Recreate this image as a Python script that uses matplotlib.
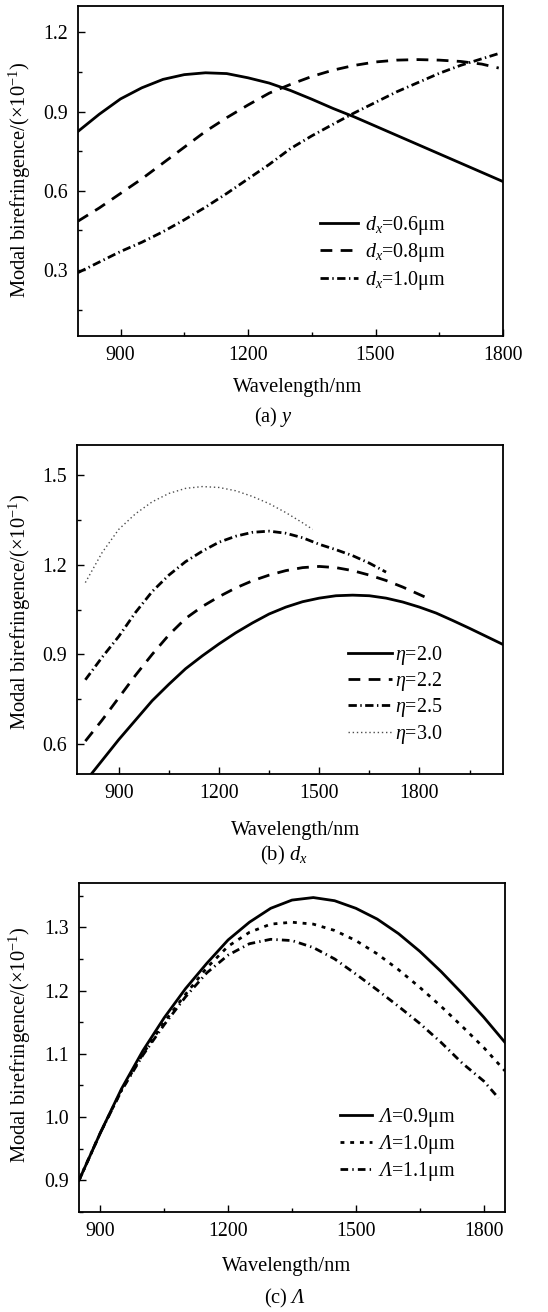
import matplotlib
matplotlib.use('Agg')
import matplotlib.pyplot as plt
from matplotlib.ticker import MultipleLocator, FormatStrFormatter

plt.rcParams['font.family'] = ['Liberation Serif', 'DejaVu Serif']
plt.rcParams['mathtext.fontset'] = 'custom'
plt.rcParams['mathtext.rm'] = 'Liberation Serif'
plt.rcParams['mathtext.it'] = 'Liberation Serif:italic'
plt.rcParams['mathtext.sf'] = 'Liberation Serif:italic'
plt.rcParams['mathtext.bf'] = 'Liberation Serif:bold'
plt.rcParams['lines.scale_dashes'] = False

# ---------------- Panel (a): varying y ----------------
a_x06 = [800, 850, 900, 950, 1000, 1050, 1100, 1150, 1200, 1250, 1300, 1350, 1400,
         1450, 1500, 1550, 1600, 1650, 1700, 1750, 1800]
a_y06 = [0.825, 0.89, 0.948, 0.99, 1.022, 1.04, 1.047, 1.044, 1.028, 1.008, 0.98, 0.947,
         0.912, 0.88, 0.845, 0.81, 0.775, 0.74, 0.705, 0.67, 0.635]
a_x08 = [800, 850, 900, 950, 1000, 1050, 1100, 1150, 1200, 1250, 1300, 1350, 1400,
         1450, 1500, 1550, 1600, 1650, 1700, 1750, 1790]
a_y08 = [0.485, 0.535, 0.59, 0.645, 0.705, 0.765, 0.825, 0.877, 0.925, 0.97, 1.003, 1.033,
         1.057, 1.075, 1.088, 1.095, 1.097, 1.095, 1.09, 1.08, 1.065]
a_x10 = [800, 850, 900, 950, 1000, 1050, 1100, 1150, 1200, 1250, 1300, 1350, 1400,
         1450, 1500, 1550, 1600, 1650, 1700, 1750, 1790]
a_y10 = [0.29, 0.33, 0.37, 0.405, 0.445, 0.49, 0.538, 0.59, 0.645, 0.7, 0.76, 0.808,
         0.852, 0.895, 0.935, 0.975, 1.01, 1.045, 1.075, 1.1, 1.12]
a_labels = [r'$d_x$=0.6μm', r'$d_x$=0.8μm', r'$d_x$=1.0μm']

# ---------------- Panel (b): varying d_x ----------------
b_x20 = [800, 850, 900, 950, 1000, 1050, 1100, 1150, 1200, 1250, 1300, 1350, 1400, 1450,
         1500, 1550, 1600, 1650, 1700, 1750, 1800, 1850, 1900, 1950, 2000, 2050]
b_y20 = [0.475, 0.545, 0.615, 0.68, 0.745, 0.8, 0.852, 0.895, 0.935, 0.972, 1.005, 1.035,
         1.058, 1.076, 1.088, 1.096, 1.098, 1.096, 1.088, 1.075, 1.058, 1.038, 1.013, 0.987,
         0.96, 0.933]
b_x22 = [800, 850, 900, 950, 1000, 1050, 1100, 1150, 1200, 1250, 1300, 1350, 1400, 1450,
         1500, 1550, 1600, 1650, 1700, 1750, 1800, 1820]
b_y22 = [0.61, 0.68, 0.755, 0.83, 0.9, 0.965, 1.02, 1.06, 1.093, 1.122, 1.146, 1.165,
         1.18, 1.19, 1.194, 1.19, 1.18, 1.165, 1.147, 1.125, 1.1, 1.09]
b_x25 = [800, 850, 900, 950, 1000, 1050, 1100, 1150, 1200, 1250, 1300, 1350, 1400, 1450,
         1500, 1550, 1600, 1650, 1700]
b_y25 = [0.815, 0.89, 0.96, 1.04, 1.11, 1.165, 1.21, 1.245, 1.275, 1.295, 1.308, 1.312,
         1.305, 1.29, 1.268, 1.25, 1.23, 1.205, 1.175]
b_x30 = [800, 850, 900, 950, 1000, 1050, 1100, 1150, 1200, 1250, 1300, 1350, 1400, 1450, 1480]
b_y30 = [1.14, 1.24, 1.318, 1.37, 1.41, 1.438, 1.455, 1.461, 1.458, 1.447, 1.428, 1.404,
         1.374, 1.34, 1.318]
b_labels = [r'$\eta$=2.0', r'$\eta$=2.2', r'$\eta$=2.5', r'$\eta$=3.0']

# ---------------- Panel (c): varying Lambda ----------------
c_x09 = [850, 900, 950, 1000, 1050, 1100, 1150, 1200, 1250, 1300, 1350, 1400, 1450, 1500,
         1550, 1600, 1650, 1700, 1750, 1800, 1850]
c_y09 = [0.9, 0.975, 1.045, 1.105, 1.157, 1.203, 1.243, 1.28, 1.308, 1.33, 1.343, 1.347,
         1.342, 1.33, 1.313, 1.29, 1.262, 1.23, 1.195, 1.158, 1.118]
c_x10 = [850, 900, 950, 1000, 1050, 1100, 1150, 1200, 1250, 1300, 1350, 1400, 1450, 1500,
         1550, 1600, 1650, 1700, 1750, 1800, 1850]
c_y10 = [0.9, 0.975, 1.043, 1.1, 1.15, 1.194, 1.236, 1.27, 1.292, 1.305, 1.308, 1.305,
         1.295, 1.279, 1.258, 1.233, 1.205, 1.175, 1.143, 1.11, 1.073]
c_x11 = [850, 900, 950, 1000, 1050, 1100, 1150, 1200, 1250, 1300, 1350, 1400, 1450, 1500,
         1550, 1600, 1650, 1700, 1750, 1800, 1835]
c_y11 = [0.9, 0.975, 1.042, 1.098, 1.146, 1.19, 1.228, 1.256, 1.274, 1.281, 1.279, 1.268,
         1.25, 1.226, 1.201, 1.175, 1.148, 1.118, 1.085, 1.057, 1.03]
c_labels = [r'$\mathsf{Λ}$=0.9μm', r'$\mathsf{Λ}$=1.0μm', r'$\mathsf{Λ}$=1.1μm']

xlabel = 'Wavelength/nm'
ylabel = r'Modal birefringence/(×10$^{−1}$)'
captions = [r'(a) $y$', r'(b) $d_x$', r'(c) $\mathsf{Λ}$']

W, H = 548, 1312
FS_TICK = 14.3
FS_LAB = 14.8
FS_LEG = 14.4
fig = plt.figure(figsize=(W / 100, H / 100), dpi=100)


def make_axes(l, r, t, b):
    return fig.add_axes([l / W, 1 - b / H, (r - l) / W, (b - t) / H])


def style_axes(ax, xlim, ylim, ymaj, ymin, xmaj=300, xmin=150):
    ax.set_xlim(*xlim)
    ax.set_ylim(*ylim)
    ax.xaxis.set_major_locator(MultipleLocator(xmaj))
    ax.xaxis.set_minor_locator(MultipleLocator(xmin))
    ax.yaxis.set_major_locator(MultipleLocator(ymaj))
    ax.yaxis.set_minor_locator(MultipleLocator(ymin))
    ax.yaxis.set_major_formatter(FormatStrFormatter('%.1f'))
    ax.tick_params(which='both', direction='in', top=False, right=False,
                   labelsize=FS_TICK, width=1.0, pad=7)
    ax.tick_params(which='major', length=5)
    ax.tick_params(which='minor', length=3)
    for s in ax.spines.values():
        s.set_linewidth(1.3)


SOLID = dict(color='black', lw=2.0, ls='-')
DASH = dict(color='black', lw=2.0, ls=(0, (8.5, 6)))
DASHDOT = dict(color='black', lw=2.0, ls=(0, (6, 2.5, 1, 2.5)))

# Panel (a)
axa = make_axes(78, 503, 6, 336)
la1, = axa.plot(a_x06, a_y06, **SOLID)
la2, = axa.plot(a_x08, a_y08, **DASH)
la3, = axa.plot(a_x10, a_y10, **DASHDOT)
style_axes(axa, (800, 1800), (0.05, 1.3), 0.3, 0.15)
axa.legend([la1, la2, la3], a_labels, frameon=False, loc='upper left',
           bbox_to_anchor=(0.569, 0.37), borderpad=0, borderaxespad=0,
           handlelength=1.9, handletextpad=0.35, labelspacing=0.22, fontsize=FS_LEG)

# Panel (b)
axb = make_axes(77, 503, 445, 774)
lb1, = axb.plot(b_x20, b_y20, **SOLID)
lb2, = axb.plot(b_x22, b_y22, **DASH)
lb3, = axb.plot(b_x25, b_y25, **DASHDOT)
lb4, = axb.plot(b_x30, b_y30, color='0.3', lw=1.0, ls=(0, (1, 2)))
style_axes(axb, (775, 2050), (0.5, 1.6), 0.3, 0.15)
axb.legend([lb1, lb2, lb3, lb4], b_labels, frameon=False, loc='upper left',
           bbox_to_anchor=(0.636, 0.395), borderpad=0, borderaxespad=0,
           handlelength=2.2, handletextpad=0.15, labelspacing=0.16, fontsize=FS_LEG)

# Panel (c)
axc = make_axes(79, 505, 883, 1212)
lc1, = axc.plot(c_x09, c_y09, **SOLID)
lc2, = axc.plot(c_x10, c_y10, color='black', lw=2.0, ls=(0, (2.8, 4.2)))
lc3, = axc.plot(c_x11, c_y11, color='black', lw=2.0, ls=(0, (5.5, 3, 1, 3)))
style_axes(axc, (850, 1850), (0.85, 1.37), 0.1, 0.05)
axc.legend([lc1, lc2, lc3], c_labels, frameon=False, loc='upper left',
           bbox_to_anchor=(0.613, 0.321), borderpad=0, borderaxespad=0,
           handlelength=1.6, handletextpad=0.3, labelspacing=0.18, fontsize=FS_LEG)

# Labels and captions (pixel positions)
for (yl_x, yl_y, xl_x, xl_y, cap_x, cap_y, cap) in [
        (20, 180, 298, 388, 273, 417, captions[0]),
        (20, 612, 296, 830, 284, 855, captions[1]),
        (20, 1045, 287, 1267, 285, 1298, captions[2])]:
    fig.text(yl_x / W, 1 - yl_y / H, ylabel, rotation=90, ha='center', va='center',
             fontsize=FS_LAB)
    fig.text(xl_x / W, 1 - xl_y / H, xlabel, ha='center', va='center', fontsize=FS_LAB)
    fig.text(cap_x / W, 1 - cap_y / H, cap, ha='center', va='center', fontsize=FS_LAB)

fig.savefig('out.png', dpi=100, facecolor='white')
